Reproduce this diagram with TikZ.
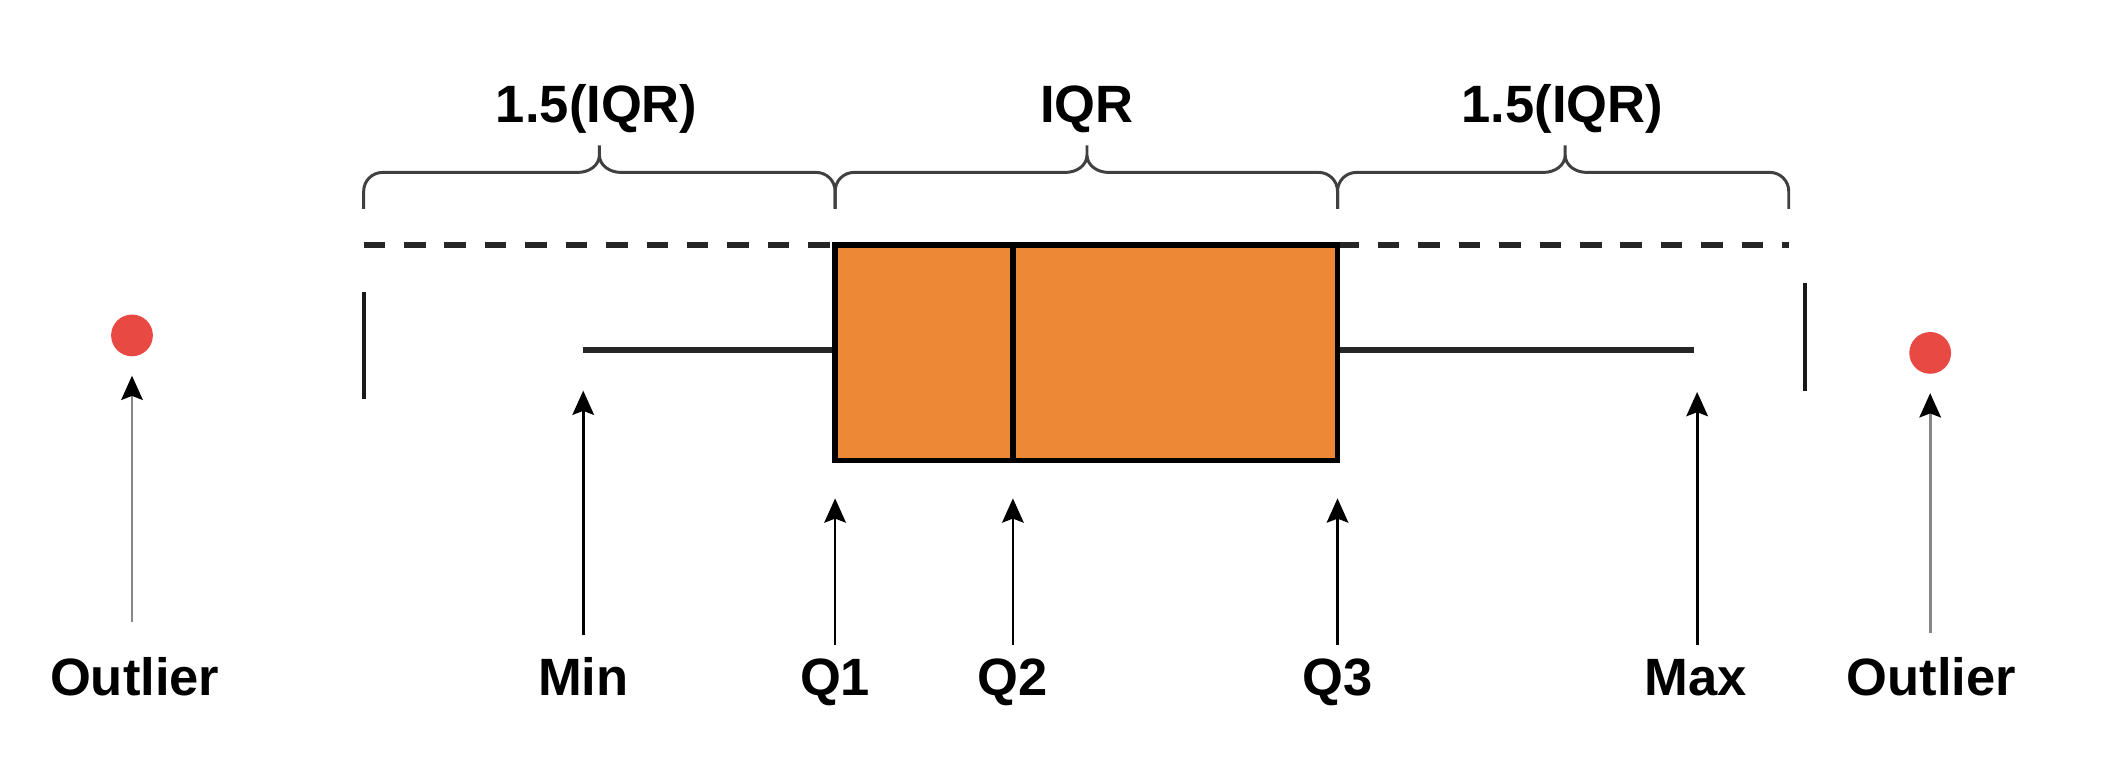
\documentclass[tikz,border=0pt]{standalone}
\usepackage{fontspec}
\setmainfont{Liberation Sans}
\usepackage{tikz}
\usetikzlibrary{arrows.meta}

\definecolor{boxorange}{RGB}{237,137,54}
\definecolor{dotred}{RGB}{232,74,67}
\definecolor{arrowgray}{RGB}{135,135,135}

% curly brace from #1 to #2 with its tip at #3
\newcommand{\rangebrace}[3]{%
  \draw[brace] (#1,155) -- (#1,142) to[out=90,in=180] ({#1+14},128) -- ({#3-16},128)
    to[out=0,in=-90] (#3,115) -- (#3,108)
    (#3,115) to[out=-90,in=180] ({#3+16},128) -- ({#2-14},128) to[out=0,in=90] (#2,142) -- (#2,155);}

\begin{document}
\begin{tikzpicture}[x=0.5pt,y=-0.5pt,font=\fontsize{19.5}{23}\selectfont\bfseries]
        \tikzstyle{brace}=[line width=1.1pt,black!75]
        \tikzstyle{dashline}=[line width=2.2pt,black!85,dash pattern=on 8pt off 7pt]
        \tikzstyle{whisker}=[line width=2.3pt,black!85]
        \tikzstyle{fence}=[line width=1.6pt,black!90]
        \tikzstyle{iqrbox}=[line width=2pt,draw=black,fill=boxorange]
        \tikzstyle{outlier}=[circle,fill=dotred,inner sep=0pt,minimum size=15.5pt]
        \tikzstyle{pointer}=[line width=1pt,-{Stealth[length=9pt,width=8pt,inset=1.5pt]}]
        \tikzstyle{graypointer}=[pointer,draw=arrowgray,-{Stealth[length=9pt,width=8pt,inset=1.5pt,color=black]}]
        \tikzstyle{tag}=[anchor=base]

        \useasboundingbox (0,0) rectangle (1568,570);

        % ranges on top
        \rangebrace{270}{620}{445}
        \rangebrace{620}{993}{807}
        \rangebrace{993}{1328}{1162}
        \node[tag] (range1) at (443,91) {1.5(IQR)};
        \node[tag] (range2) at (807,91) {IQR};
        \node[tag] (range3) at (1160,91) {1.5(IQR)};

        \draw[dashline] (270,182) -- (620,182);
        \draw[dashline] (993,182) -- (1328,182);

        % box and whiskers
        \draw[whisker] (433,260) -- (620,260);
        \draw[whisker] (993,260) -- (1258,260);
        \draw[iqrbox] (620,182) rectangle (993,342);
        \draw[iqrbox] (752,182) -- (752,342);
        \draw[fence] (270,217) -- (270,296);
        \draw[fence] (1340,210) -- (1340,290);

        \node[outlier] (dot1) at (98,249) {};
        \node[outlier] (dot2) at (1433,262) {};

        \coordinate (tipmin) at (433,290);
        \coordinate (tipq1) at (620,370);
        \coordinate (tipq2) at (752,370);
        \coordinate (tipq3) at (993,370);
        \coordinate (tipmax) at (1260,291);

        % labels underneath
        \node[tag] (out1) at (100,516) {Outlier};
        \node[tag] (min) at (433,516) {Min};
        \node[tag] (q1) at (620,516) {Q1};
        \node[tag] (q2) at (752,516) {Q2};
        \node[tag] (q3) at (993,516) {Q3};
        \node[tag] (max) at (1259,516) {Max};
        \node[tag] (out2) at (1434,516) {Outlier};

        \draw[graypointer,shorten <=9.5pt,shorten >=7pt] (out1.north -| dot1) -- (dot1.south);
        \draw[pointer,shorten <=4.5pt] (min.north) -- (tipmin);
        \draw[pointer,shorten <=1.5pt] (q1.north) -- (tipq1);
        \draw[pointer,shorten <=1.5pt] (q2.north) -- (tipq2);
        \draw[pointer,shorten <=1.5pt] (q3.north) -- (tipq3);
        \draw[pointer,shorten <=1.5pt] (max.north -| tipmax) -- (tipmax);
        \draw[graypointer,shorten <=5.5pt,shorten >=7pt] (out2.north -| dot2) -- (dot2.south);
\end{tikzpicture}
\end{document}
